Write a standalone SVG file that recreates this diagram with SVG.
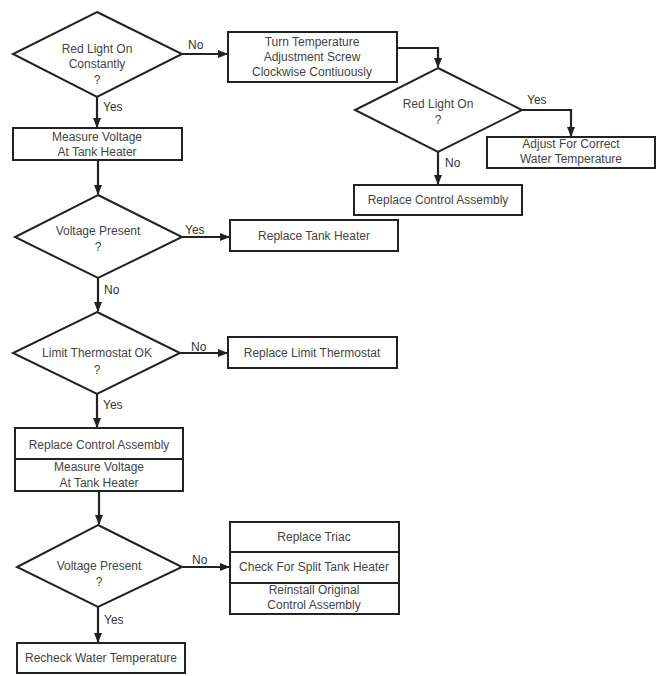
<svg xmlns="http://www.w3.org/2000/svg" width="659" height="676" viewBox="0 0 659 676">
<style>
.shape{fill:#fff;stroke:#222;stroke-width:2}
.t{font-family:"Liberation Sans",Arial,sans-serif;font-size:12px;fill:#444;text-anchor:middle}
.lbl{font-family:"Liberation Sans",Arial,sans-serif;font-size:12px;fill:#333}
.c{fill:none;stroke:#222;stroke-width:2.2}
</style>
<defs>
<marker id="ah" markerWidth="10" markerHeight="8" refX="9" refY="4" orient="auto" markerUnits="userSpaceOnUse">
<path d="M0,0 L10,4 L0,8 Z" fill="#222"/>
</marker>
</defs>
<rect width="659" height="676" fill="#fff"/>
<g id="connectors">
<path class="c" d="M182,54 H227" marker-end="url(#ah)"/>
<path class="c" d="M97,97 V127" marker-end="url(#ah)"/>
<path class="c" d="M397,48 H438 V67" marker-end="url(#ah)"/>
<path class="c" d="M522,110 H571 V136" marker-end="url(#ah)"/>
<path class="c" d="M438,152 V184" marker-end="url(#ah)"/>
<path class="c" d="M98,160 V194" marker-end="url(#ah)"/>
<path class="c" d="M182,237 H229" marker-end="url(#ah)"/>
<path class="c" d="M98,278 V311" marker-end="url(#ah)"/>
<path class="c" d="M180,353 H227" marker-end="url(#ah)"/>
<path class="c" d="M97,394 V427" marker-end="url(#ah)"/>
<path class="c" d="M99,491 V524" marker-end="url(#ah)"/>
<path class="c" d="M182,567 H229" marker-end="url(#ah)"/>
<path class="c" d="M98,607 V642" marker-end="url(#ah)"/>
<text class="lbl" x="188" y="49">No</text>
<text class="lbl" x="103" y="111">Yes</text>
<text class="lbl" x="527" y="104">Yes</text>
<text class="lbl" x="445" y="167">No</text>
<text class="lbl" x="185" y="234">Yes</text>
<text class="lbl" x="104" y="294">No</text>
<text class="lbl" x="191" y="351">No</text>
<text class="lbl" x="103" y="409">Yes</text>
<text class="lbl" x="192" y="564">No</text>
<text class="lbl" x="104" y="624">Yes</text>
</g>
<g id="d1">
<polygon class="shape" points="97,12 182,54 97,97 13,54"/>
<text class="t" x="97" y="53">Red Light On</text>
<text class="t" x="97" y="68">Constantly</text>
<text class="t" x="97" y="84">?</text>
</g>
<g id="b-turn">
<rect class="shape" x="228" y="32" width="169" height="50"/>
<text class="t" x="312" y="46">Turn Temperature</text>
<text class="t" x="312" y="61">Adjustment Screw</text>
<text class="t" x="312" y="76">Clockwise Contiuously</text>
</g>
<g id="b-measure1">
<rect class="shape" x="13" y="128" width="169" height="32"/>
<text class="t" x="97" y="141">Measure Voltage</text>
<text class="t" x="97" y="156">At Tank Heater</text>
</g>
<g id="d2">
<polygon class="shape" points="438,68 522,110 438,152 355,110"/>
<text class="t" x="438" y="108">Red Light On</text>
<text class="t" x="438" y="124">?</text>
</g>
<g id="b-adjust">
<rect class="shape" x="487" y="137" width="168" height="31"/>
<text class="t" x="571" y="148">Adjust For Correct</text>
<text class="t" x="571" y="163">Water Temperature</text>
</g>
<g id="b-rca1">
<rect class="shape" x="354" y="185" width="168" height="30"/>
<text class="t" x="438" y="204">Replace Control Assembly</text>
</g>
<g id="d3">
<polygon class="shape" points="98,195 182,237 98,278 15,237"/>
<text class="t" x="98" y="235">Voltage Present</text>
<text class="t" x="98" y="251">?</text>
</g>
<g id="b-tank">
<rect class="shape" x="230" y="220" width="168" height="31"/>
<text class="t" x="314" y="240">Replace Tank Heater</text>
</g>
<g id="d4">
<polygon class="shape" points="97,312 180,353 97,394 13,353"/>
<text class="t" x="97" y="357">Limit Thermostat OK</text>
<text class="t" x="97" y="374">?</text>
</g>
<g id="b-limit">
<rect class="shape" x="228" y="337" width="169" height="31"/>
<text class="t" x="312" y="357">Replace Limit Thermostat</text>
</g>
<g id="b-rca2">
<rect class="shape" x="15" y="428" width="168" height="63"/>
<line class="shape" x1="15" y1="459" x2="183" y2="459"/>
<text class="t" x="99" y="449">Replace Control Assembly</text>
<text class="t" x="99" y="471">Measure Voltage</text>
<text class="t" x="99" y="487">At Tank Heater</text>
</g>
<g id="d5">
<polygon class="shape" points="98,525 182,567 98,607 17,567"/>
<text class="t" x="99" y="570">Voltage Present</text>
<text class="t" x="99" y="586">?</text>
</g>
<g id="b-triac">
<rect class="shape" x="230" y="522" width="169" height="92"/>
<line class="shape" x1="230" y1="552" x2="399" y2="552"/>
<line class="shape" x1="230" y1="583" x2="399" y2="583"/>
<text class="t" x="314" y="541">Replace Triac</text>
<text class="t" x="314" y="571">Check For Split Tank Heater</text>
<text class="t" x="314" y="594">Reinstall Original</text>
<text class="t" x="314" y="609">Control Assembly</text>
</g>
<g id="b-recheck">
<rect class="shape" x="17" y="643" width="168" height="30"/>
<text class="t" x="101" y="662">Recheck Water Temperature</text>
</g>
</svg>
